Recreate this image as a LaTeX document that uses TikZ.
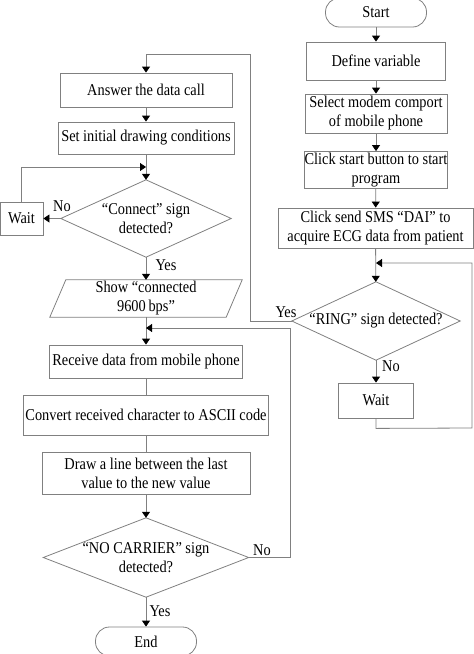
\documentclass[tikz,border=0pt]{standalone}
\usepackage{fontspec}
\setmainfont{Liberation Serif}[FakeStretch=0.87]
\usepackage{tikz}
\usetikzlibrary{arrows.meta}
\definecolor{linegray}{rgb}{0.5,0.5,0.5}

\begin{document}
\begin{tikzpicture}[x=1pt,y=-1pt,
	font=\fontsize{16.5}{19}\selectfont,
	box/.style={draw=linegray,line width=0.8pt,rectangle,inner sep=0pt,align=center},
	term/.style={draw=linegray,line width=0.8pt,rectangle,rounded corners=14pt,inner sep=0pt,minimum width=101,minimum height=29},
	dec/.style={rectangle,inner sep=0pt,align=center},
	line/.style={draw=linegray,line width=0.8pt},
	arr/.style={line,-{Triangle[length=6pt,width=8pt,color=black]}},
	lbl/.style={inner sep=0pt}]
		\useasboundingbox (0,0) rectangle (474,654);
		\node[term] (start) at (376,12.5) {Start};
		\node[box,minimum width=139,minimum height=38] (define) at (376,61) {Define variable};
		\node[box,minimum width=142,minimum height=39] (select) at (376,113.5) {Select modem comport\\of mobile phone};
		\node[box,minimum width=141,minimum height=37] (click) at (376,170) {Click start button to start\\program};
		\node[box,minimum width=195,minimum height=40] (sms) at (375.5,228) {Click send SMS “DAI” to\\acquire ECG data from patient};
		\node[dec,minimum width=168,minimum height=78] (ring) at (376,321) {“RING” sign detected?};
		\draw[line] (ring.north) -- (ring.east) -- (ring.south) -- (ring.west) -- cycle;
		\node[box,minimum width=75,minimum height=35] (wait2) at (376,400.5) {Wait};
		\node[box,minimum width=172,minimum height=34] (answer) at (146,90) {Answer the data call};
		\node[box,minimum width=176,minimum height=32] (setinit) at (146,138) {Set initial drawing conditions};
		\node[dec,minimum width=170,minimum height=77] (connect) at (146,218.5) {“Connect” sign\\detected?};
		\draw[line] (connect.north) -- (connect.east) -- (connect.south) -- (connect.west) -- cycle;
		\node[box,minimum width=43,minimum height=33] (wait1) at (21.5,218.5) {Wait};
		\node[dec,minimum width=176,minimum height=37] (show) at (146,298.5) {Show “connected\\9600\,bps”};
		\draw[line] ([xshift=8]show.north west) -- ([xshift=8]show.north east) -- ([xshift=-8]show.south east) -- ([xshift=-8]show.south west) -- cycle;
		\node[box,minimum width=193,minimum height=33] (receive) at (146,361.5) {Receive data from mobile phone};
		\node[box,minimum width=245,minimum height=40] (convert) at (146,415) {Convert received character to ASCII code};
		\node[box,minimum width=208,minimum height=42] (drawline) at (146,473) {Draw a line between the last\\value to the new value};
		\node[dec,minimum width=205,minimum height=79] (nocar) at (146,557.5) {“NO CARRIER” sign\\detected?};
		\draw[line] (nocar.north) -- (nocar.east) -- (nocar.south) -- (nocar.west) -- cycle;
		\node[term] (end) at (146,641.5) {End};
		\node[lbl] (noconnect) at (62,206) {No};
		\node[lbl] (yesconnect) at (166,265) {Yes};
		\node[lbl] (yesring) at (286,312) {Yes};
		\node[lbl] (noring) at (391,366) {No};
		\node[lbl] (nonocar) at (262,550) {No};
		\node[lbl] (yesnocar) at (160,611) {Yes};
		\coordinate (m1) at (146,167);
		\coordinate (m2) at (146,328);
		\coordinate (m3) at (376,263);
		\draw[arr] (start) -- (define);
		\draw[arr] (define) -- (select);
		\draw[arr] (select) -- (click);
		\draw[arr] (click) -- (sms);
		\draw[arr] (sms) -- (ring);
		\draw[arr] (ring) -- (wait2);
		\draw[arr] (wait2.south) -- ++(0,10) -- (472,428) -- (472,263) -- (m3);
		\draw[arr] (ring.west) -- (250,321) -- (250,54) -- (146,54) -- (answer.north);
		\draw[arr] (answer) -- (setinit);
		\draw[arr] (setinit) -- (connect);
		\draw[arr] (wait1.north) |- (m1);
		\draw[arr] (connect.west) -- (wait1.east);
		\draw[arr] (connect) -- (show);
		\draw[arr] (show) -- (receive);
		\draw[arr] (nocar.east) -- (290,557.5) -- (290,328) -- (m2);
		\draw[line] (receive) -- (convert);
		\draw[line] (convert) -- (drawline);
		\draw[arr] (drawline) -- (nocar);
		\draw[arr] (nocar) -- (end);
\end{tikzpicture}
\end{document}
